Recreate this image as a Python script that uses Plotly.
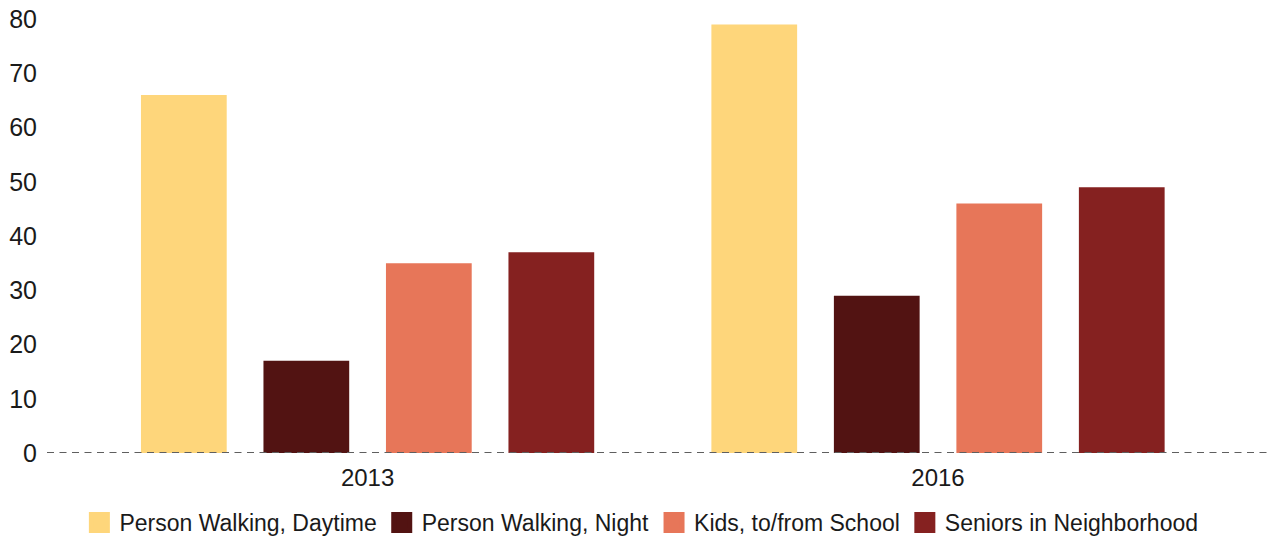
import plotly.graph_objects as go

years = ["2013", "2016"]
series_names = ["Person Walking, Daytime", "Person Walking, Night",
                "Kids, to/from School", "Seniors in Neighborhood"]
daytime = [66, 79]
night = [17, 29]
kids = [35, 46]
seniors = [37, 49]
series_values = [daytime, night, kids, seniors]
colors = ["#FED67B", "#521312", "#E77659", "#852120"]
y_ticks = [0, 10, 20, 30, 40, 50, 60, 70, 80]

FONT = "Liberation Sans, Arial, sans-serif"

fig = go.Figure()
for name, vals, col in zip(series_names, series_values, colors):
    fig.add_trace(go.Bar(x=years, y=vals, name=name, marker_color=col,
                         marker_line_width=0, showlegend=False))
# legend entries with larger square swatches
for name, col in zip(series_names, colors):
    fig.add_trace(go.Scatter(x=[None], y=[None], mode="markers", name=name,
                             marker=dict(symbol="square", size=17, color=col,
                                         line=dict(color=col, width=5)),
                             showlegend=True))

fig.add_shape(type="line", xref="paper", yref="y", x0=0, x1=1, y0=0, y1=0,
              line=dict(color="#5f5f5f", width=2, dash="7px,5.5px"))

fig.update_layout(
    width=1273, height=540,
    margin=dict(l=47, r=3, t=19, b=87, autoexpand=False),
    paper_bgcolor="white", plot_bgcolor="white",
    barmode="group", bargap=0.141, bargroupgap=0.3,
    font=dict(family=FONT, size=24, color="#1a1a1a"),
    xaxis=dict(type="category", range=[-0.562, 1.582], showgrid=False,
               showline=False, zeroline=False, ticks="", automargin=False,
               tickfont=dict(size=24), ticklabelstandoff=8),
    yaxis=dict(range=[0, 80], tickvals=y_ticks, showgrid=False,
               zeroline=False, showline=False, ticks="", automargin=False,
               tickfont=dict(size=25), ticklabelstandoff=9),
    legend=dict(orientation="h", x=0.486, xanchor="center", y=-0.160,
                yanchor="middle", font=dict(size=23), itemwidth=30,
                traceorder="normal"),
)

fig.write_html("out.html", post_script="document.body.style.margin='0';",
               config={"displayModeBar": False})
